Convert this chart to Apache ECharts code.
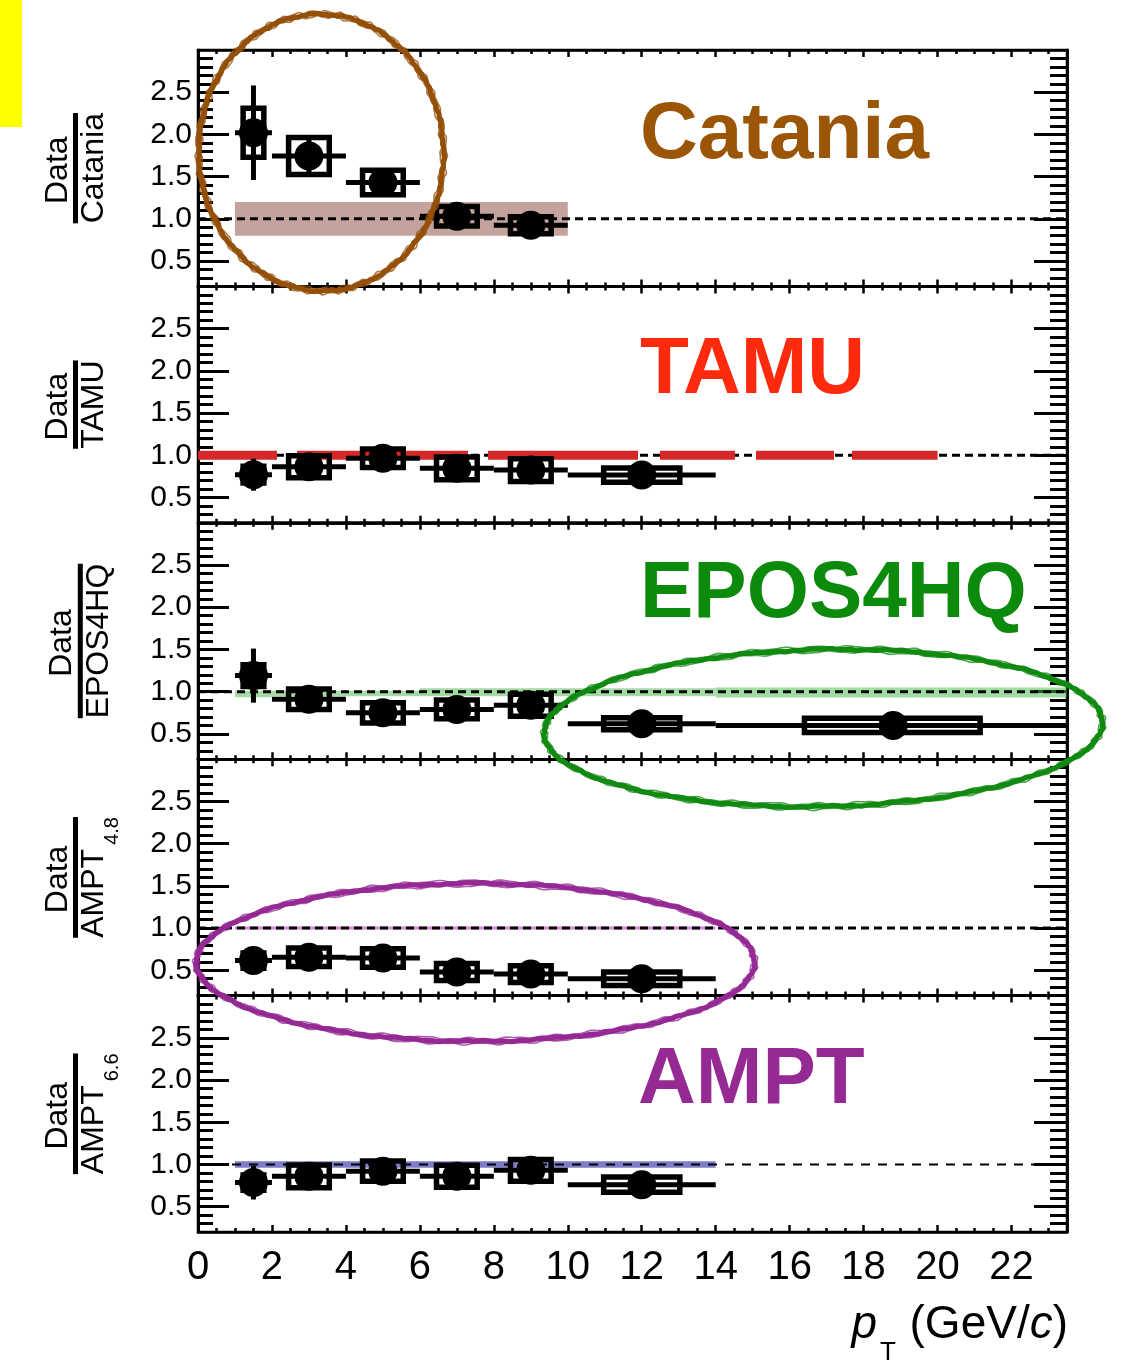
<!DOCTYPE html>
<html>
<head>
<meta charset="utf-8">
<script src="https://cdn.jsdelivr.net/npm/echarts@6/dist/echarts.min.js"></script>
<style>
  html, body { margin: 0; padding: 0; background: #fff; }
  #chart { width: 1138px; height: 1366px; }
</style>
</head>
<body>
<div id="chart"></div>
<script>
// ---- pT binning (GeV/c) ----
const binLo  = [1, 2, 4, 6, 8, 10, 14];
const binHi  = [2, 4, 6, 8, 10, 14, 23.5];
const ptMean = [1.5, 3, 5, 7, 9, 12, 18.8];
// extent of the systematic-uncertainty boxes along pT
const boxLo  = [1.22, 2.45, 4.45, 6.45, 8.45, 10.97, 16.4];
const boxHi  = [1.78, 3.55, 5.55, 7.55, 9.55, 13.03, 21.15];

// ---- Data / model ratios ----
const catValue  = [2.02, 1.745, 1.43, 1.03, 0.925];
const catStat   = [0.56, 0.20, 0.14, 0.10, 0.10];
const catSys    = [0.29, 0.22, 0.145, 0.115, 0.10];

const tamuValue = [0.77, 0.865, 0.965, 0.845, 0.825, 0.765];
const tamuStat  = [0.19, 0.12, 0.10, 0.10, 0.10, 0.08];
const tamuSys   = [0.10, 0.13, 0.11, 0.135, 0.135, 0.085];

const eposValue = [1.19, 0.91, 0.75, 0.79, 0.84, 0.62, 0.60];
const eposStat  = [0.32, 0.12, 0.12, 0.10, 0.10, 0.10, 0.12];
const eposSys   = [0.13, 0.12, 0.12, 0.11, 0.13, 0.07, 0.085];

const ampt48Value = [0.615, 0.655, 0.645, 0.48, 0.455, 0.40];
const ampt48Stat  = [0.10, 0.08, 0.08, 0.06, 0.06, 0.05];
const ampt48Sys   = [0.09, 0.11, 0.11, 0.10, 0.10, 0.08];

const ampt66Value = [0.785, 0.86, 0.92, 0.86, 0.93, 0.76];
const ampt66Stat  = [0.20, 0.12, 0.12, 0.10, 0.10, 0.09];
const ampt66Sys   = [0.09, 0.135, 0.12, 0.13, 0.13, 0.09];

// ---- model uncertainty bands (bin edges, lower / upper edge of the band) ----
const catBandX = [1, 2, 10];
const catBandLow = [0.8, 0.8];
const catBandHigh = [1.2, 1.2];

const eposBandX = [1, 2, 6, 14, 23.5];
const eposBandLow = [0.935, 0.945, 0.945, 0.93];
const eposBandHigh = [1.01, 1.01, 1.04, 1.05];

const ampt48BandX = [1, 14];
const ampt48BandLow = [0.982];
const ampt48BandHigh = [1.018];

const ampt66BandX = [1, 14];
const ampt66BandLow = [0.962];
const ampt66BandHigh = [1.038];

// TAMU reference curve (pT range)
const tamuLineX = [0, 20];

// ---- axes ----
const xMin = 0, xMax = 23.5;
const yMin = 0.2, yMax = 3.0;
const xMajor = [0, 2, 4, 6, 8, 10, 12, 14, 16, 18, 20, 22];
const yMajor = [0.5, 1.0, 1.5, 2.0, 2.5];
const yMinor = [0.3, 0.4, 0.6, 0.7, 0.8, 0.9, 1.1, 1.2, 1.3, 1.4, 1.6, 1.7, 1.8, 1.9,
                2.1, 2.2, 2.3, 2.4, 2.6, 2.7, 2.8, 2.9];

// ---- layout ----
const PANEL_H = 236.4, PANEL_TOP = 50, PANEL_LEFT = 198, PANEL_W = 869;
const FONT = '"Liberation Sans", Arial, Helvetica, sans-serif';

const panels = [
  { model: 'Catania', denom: 'Catania', sub: '', color: '#9a5507',
    value: catValue, stat: catStat, sys: catSys,
    band: { x: catBandX, low: catBandLow, high: catBandHigh, fill: 'rgba(137,71,61,0.5)' },
    ellipse: { c: [3.33, 1.785, 3.31, 1.64], color: '#94500a', tilt: -0.05 },
    dash: [8, 5], dashWidth: 3, titleShift: 0 },
  { model: 'TAMU', denom: 'TAMU', sub: '', color: '#ff2a0d',
    value: tamuValue, stat: tamuStat, sys: tamuSys,
    band: null, ellipse: null, dash: [8, 5], dashWidth: 3, titleShift: 0 },
  { model: 'EPOS4HQ', denom: 'EPOS4HQ', sub: '', color: '#0c8a0c',
    value: eposValue, stat: eposStat, sys: eposSys,
    band: { x: eposBandX, low: eposBandLow, high: eposBandHigh, fill: 'rgba(70,185,70,0.5)' },
    ellipse: { c: [16.91, 0.57, 7.55, 0.93], color: '#128a12', tilt: -0.02 },
    dash: [8, 5], dashWidth: 3, titleShift: 4 },
  { model: null, denom: 'AMPT', sub: '4.8', color: '#952a95',
    value: ampt48Value, stat: ampt48Stat, sys: ampt48Sys,
    band: { x: ampt48BandX, low: ampt48BandLow, high: ampt48BandHigh, fill: 'rgba(205,80,205,0.7)' },
    ellipse: { c: [7.5, 0.594, 7.55, 0.935], color: '#952a95', tilt: 0.0 },
    dash: [8, 5], dashWidth: 3, titleShift: 0 },
  { model: 'AMPT', denom: 'AMPT', sub: '6.6', color: '#952a95',
    value: ampt66Value, stat: ampt66Stat, sys: ampt66Sys,
    band: { x: ampt66BandX, low: ampt66BandLow, high: ampt66BandHigh, fill: 'rgba(70,70,175,0.7)' },
    ellipse: null, dash: [9, 8], dashWidth: 2, titleShift: 0 }
];

const measureCtx = document.createElement('canvas').getContext('2d');
function textWidth(str, font) { measureCtx.font = font; return measureCtx.measureText(str).width; }

const grids = [], xAxes = [], yAxes = [], series = [], graphics = [];

function renderBand(params, api) {
  const p1 = api.coord([api.value(0), api.value(3)]);
  const p2 = api.coord([api.value(1), api.value(2)]);
  return { type: 'rect', shape: { x: p1[0], y: p1[1], width: p2[0] - p1[0], height: p2[1] - p1[1] },
           style: { fill: api.visual('color') } };
}

function renderPoint(params, api) {
  const pt = api.value(0), lo = api.value(1), hi = api.value(2), v = api.value(3);
  const st = api.value(4), sy = api.value(5), bl = api.value(6), bh = api.value(7);
  const pL = api.coord([lo, v]), pR = api.coord([hi, v]);
  const s1 = api.coord([pt, v + st]), s2 = api.coord([pt, v - st]);
  const b1 = api.coord([bl, v + sy]), b2 = api.coord([bh, v - sy]);
  return { type: 'group', children: [
    { type: 'line', shape: { x1: pL[0], y1: pL[1], x2: pR[0], y2: pR[1] }, style: { stroke: '#000', lineWidth: 5 } },
    { type: 'line', shape: { x1: s1[0], y1: s1[1], x2: s2[0], y2: s2[1] }, style: { stroke: '#000', lineWidth: 5 } },
    { type: 'rect', shape: { x: b1[0], y: b1[1], width: b2[0] - b1[0], height: b2[1] - b1[1] },
      style: { stroke: '#000', fill: null, lineWidth: 5.5 } }
  ] };
}

// a thick core stroke plus ragged thin edges gives the marker-pen look of the rings
function makeEllipseRenderer(color, tilt) {
  return function (params, api) {
    const c = api.coord([api.value(0), api.value(1)]);
    const s = api.size([api.value(2), api.value(3)]);
    const strokes = [
      { d: 0, amp: 0.6, f: 23, w: 5.2, o: 1 },
      { d: -2.6, amp: 1.0, f: 41, w: 1.6, o: 0.75 },
      { d: 2.6, amp: 1.0, f: 53, w: 1.6, o: 0.75 },
      { d: 1.2, amp: 0.8, f: 31, w: 2.0, o: 0.6 }
    ];
    const children = strokes.map((st, k) => {
      const pts = [];
      for (let j = 0; j <= 480; j++) {
        const t = j / 480 * Math.PI * 2;
        const wob = st.amp * Math.sin(st.f * t + k * 2.1) + 0.4 * Math.sin(97 * t + k);
        const rx = s[0] + st.d + wob, ry = s[1] + st.d + wob;
        const ex = rx * Math.cos(t), ey = ry * Math.sin(t);
        pts.push([c[0] + ex * Math.cos(tilt) - ey * Math.sin(tilt),
                  c[1] + ex * Math.sin(tilt) + ey * Math.cos(tilt)]);
      }
      return { type: 'polyline', shape: { points: pts },
        style: { stroke: color, lineWidth: st.w, fill: null, opacity: st.o } };
    });
    return { type: 'group', children };
  };
}

panels.forEach((p, i) => {
  const top = PANEL_TOP + i * PANEL_H;
  grids.push({ left: PANEL_LEFT, top: top, width: PANEL_W, height: PANEL_H,
    show: true, borderColor: '#000', borderWidth: 2.5, backgroundColor: 'transparent' });

  const xBase = { type: 'value', gridIndex: i, min: xMin, max: xMax, interval: 2,
    splitLine: { show: false }, axisLine: { show: true, lineStyle: { color: '#000', width: 2.5 } },
    axisTick: { show: true, inside: true, length: 7, customValues: xMajor, lineStyle: { color: '#000', width: 2.5 } },
    minorTick: { show: true, splitNumber: 4, length: 4, lineStyle: { color: '#000', width: 2.5 } } };
  xAxes.push(Object.assign({}, xBase, { position: 'bottom',
    axisLabel: { show: i === panels.length - 1, customValues: xMajor, fontFamily: FONT, fontSize: 40,
                 color: '#000', margin: 16 } }));
  xAxes.push(Object.assign({}, xBase, { position: 'top', axisLabel: { show: false } }));

  const yBase = { type: 'value', gridIndex: i, min: yMin, max: yMax, splitLine: { show: false },
    axisLine: { show: true, lineStyle: { color: '#000', width: 2.5 } } };
  yAxes.push(Object.assign({}, yBase, { position: 'left',
    axisTick: { show: true, inside: true, length: 31, customValues: yMajor, lineStyle: { color: '#000', width: 3 } },
    axisLabel: { show: true, customValues: yMajor, formatter: v => v.toFixed(1), fontFamily: FONT,
                 fontSize: 30, color: '#000', margin: 6 } }));
  yAxes.push(Object.assign({}, yBase, { position: 'left',
    axisTick: { show: true, inside: true, length: 15, customValues: yMinor, lineStyle: { color: '#000', width: 3 } },
    axisLabel: { show: false } }));
  yAxes.push(Object.assign({}, yBase, { position: 'right',
    axisTick: { show: true, inside: true, length: 33, customValues: yMajor, lineStyle: { color: '#000', width: 3 } },
    axisLabel: { show: false } }));
  yAxes.push(Object.assign({}, yBase, { position: 'right',
    axisTick: { show: true, inside: true, length: 17, customValues: yMinor, lineStyle: { color: '#000', width: 3 } },
    axisLabel: { show: false } }));

  const xi = 2 * i, yi = 4 * i;

  // model uncertainty band
  if (p.band) {
    const rows = p.band.low.map((lo, k) => [p.band.x[k], p.band.x[k + 1], lo, p.band.high[k]]);
    series.push({ type: 'custom', xAxisIndex: xi, yAxisIndex: yi, z: 1, silent: true,
      itemStyle: { color: p.band.fill }, renderItem: renderBand, data: rows });
  }

  // unity reference line
  series.push({ type: 'line', xAxisIndex: xi, yAxisIndex: yi, z: 2, silent: true, symbol: 'none',
    lineStyle: { color: '#000', width: p.dashWidth, type: p.dash },
    data: [[xMin, 1], [xMax, 1]] });

  // TAMU model curve (ratio normalised to itself)
  if (p.model === 'TAMU') {
    series.push({ type: 'line', xAxisIndex: xi, yAxisIndex: yi, z: 2, silent: true, symbol: 'none',
      lineStyle: { color: '#d62828', width: 9, type: [79, 20, 171, 20, 150, 22, 75, 21, 78, 18, 100] },
      data: tamuLineX.map(x => [x, 1]) });
  }

  // data points: x-bin bar, stat error, systematic box
  const n = p.value.length;
  const rows = [];
  for (let k = 0; k < n; k++) {
    rows.push([ptMean[k], binLo[k], binHi[k], p.value[k], p.stat[k], p.sys[k], boxLo[k], boxHi[k]]);
  }
  series.push({ type: 'custom', xAxisIndex: xi, yAxisIndex: yi, z: 3, silent: true,
    renderItem: renderPoint, data: rows });
  series.push({ type: 'scatter', xAxisIndex: xi, yAxisIndex: yi, z: 4, silent: true,
    symbol: 'circle', symbolSize: 29, itemStyle: { color: '#000', opacity: 1 },
    data: p.value.map((v, k) => [ptMean[k], v]) });

  // hand-drawn highlight ellipse
  if (p.ellipse) {
    series.push({ type: 'custom', xAxisIndex: xi, yAxisIndex: yi, z: 10, silent: true, clip: false,
      renderItem: makeEllipseRenderer(p.ellipse.color, p.ellipse.tilt), data: [p.ellipse.c] });
  }

  // y-axis title: Data / model fraction
  const cy = top + PANEL_H / 2;
  const sh = p.titleShift;
  const fNum = '32px ' + FONT, fSub = '20px ' + FONT;
  const wMain = textWidth(p.denom, fNum);
  const wSub = p.sub ? textWidth(p.sub, fSub) : 0;
  const gap = p.sub ? 4 : 0;
  const total = wMain + gap + wSub;
  graphics.push({ type: 'text', x: 58 + sh, y: cy + 2, rotation: Math.PI / 2, silent: true,
    style: { text: 'Data', font: fNum, fill: '#000', align: 'center', verticalAlign: 'middle' } });
  graphics.push({ type: 'rect', silent: true,
    shape: { x: 73 + sh * 1.2, y: cy - total / 2, width: 5, height: total }, style: { fill: '#000' } });
  graphics.push({ type: 'text', x: 94 + sh * 1.3, y: cy + total / 2 - wMain / 2, rotation: Math.PI / 2, silent: true,
    style: { text: p.denom, font: fNum, fill: '#000', align: 'center', verticalAlign: 'middle' } });
  if (p.sub) {
    graphics.push({ type: 'text', x: 112, y: cy - total / 2 + wSub / 2, rotation: Math.PI / 2, silent: true,
      style: { text: p.sub, font: fSub, fill: '#000', align: 'center', verticalAlign: 'middle' } });
  }
});

// model names inside the panels
const modelFont = 'bold 80px ' + FONT;
graphics.push({ type: 'text', x: 640, y: 136, silent: true,
  style: { text: 'Catania', font: modelFont, fill: panels[0].color, align: 'left', verticalAlign: 'middle' } });
graphics.push({ type: 'text', x: 640, y: 371, silent: true,
  style: { text: 'TAMU', font: modelFont, fill: panels[1].color, align: 'left', verticalAlign: 'middle' } });
graphics.push({ type: 'text', x: 640, y: 595, silent: true,
  style: { text: 'EPOS4HQ', font: modelFont, fill: panels[2].color, align: 'left', verticalAlign: 'middle' } });
graphics.push({ type: 'text', x: 638, y: 1081, silent: true,
  style: { text: 'AMPT', font: modelFont, fill: panels[4].color, align: 'left', verticalAlign: 'middle' } });

// x-axis title: p_T (GeV/c)
graphics.push({ type: 'text', x: 1068, y: 1325, silent: true,
  style: { text: '{n|(GeV/}{i|c}{n|)}', align: 'right', verticalAlign: 'middle',
    rich: { n: { font: '46px ' + FONT, fill: '#000' }, i: { font: 'italic 46px ' + FONT, fill: '#000' } } } });
graphics.push({ type: 'text', x: 877, y: 1325, silent: true,
  style: { text: 'p', font: 'italic 46px ' + FONT, fill: '#000', align: 'right', verticalAlign: 'middle' } });
graphics.push({ type: 'text', x: 888, y: 1353, silent: true,
  style: { text: 'T', font: '26px ' + FONT, fill: '#000', align: 'center', verticalAlign: 'middle' } });

// yellow marker strip at the top-left corner
graphics.push({ type: 'rect', silent: true, shape: { x: 0, y: 0, width: 22, height: 127 }, style: { fill: '#ffff00' } });

const chart = echarts.init(document.getElementById('chart'), null, { renderer: 'canvas' });
chart.setOption({
  animation: false,
  backgroundColor: '#fff',
  grid: grids,
  xAxis: xAxes,
  yAxis: yAxes,
  series: series,
  graphic: { elements: graphics }
});
</script>
</body>
</html>
